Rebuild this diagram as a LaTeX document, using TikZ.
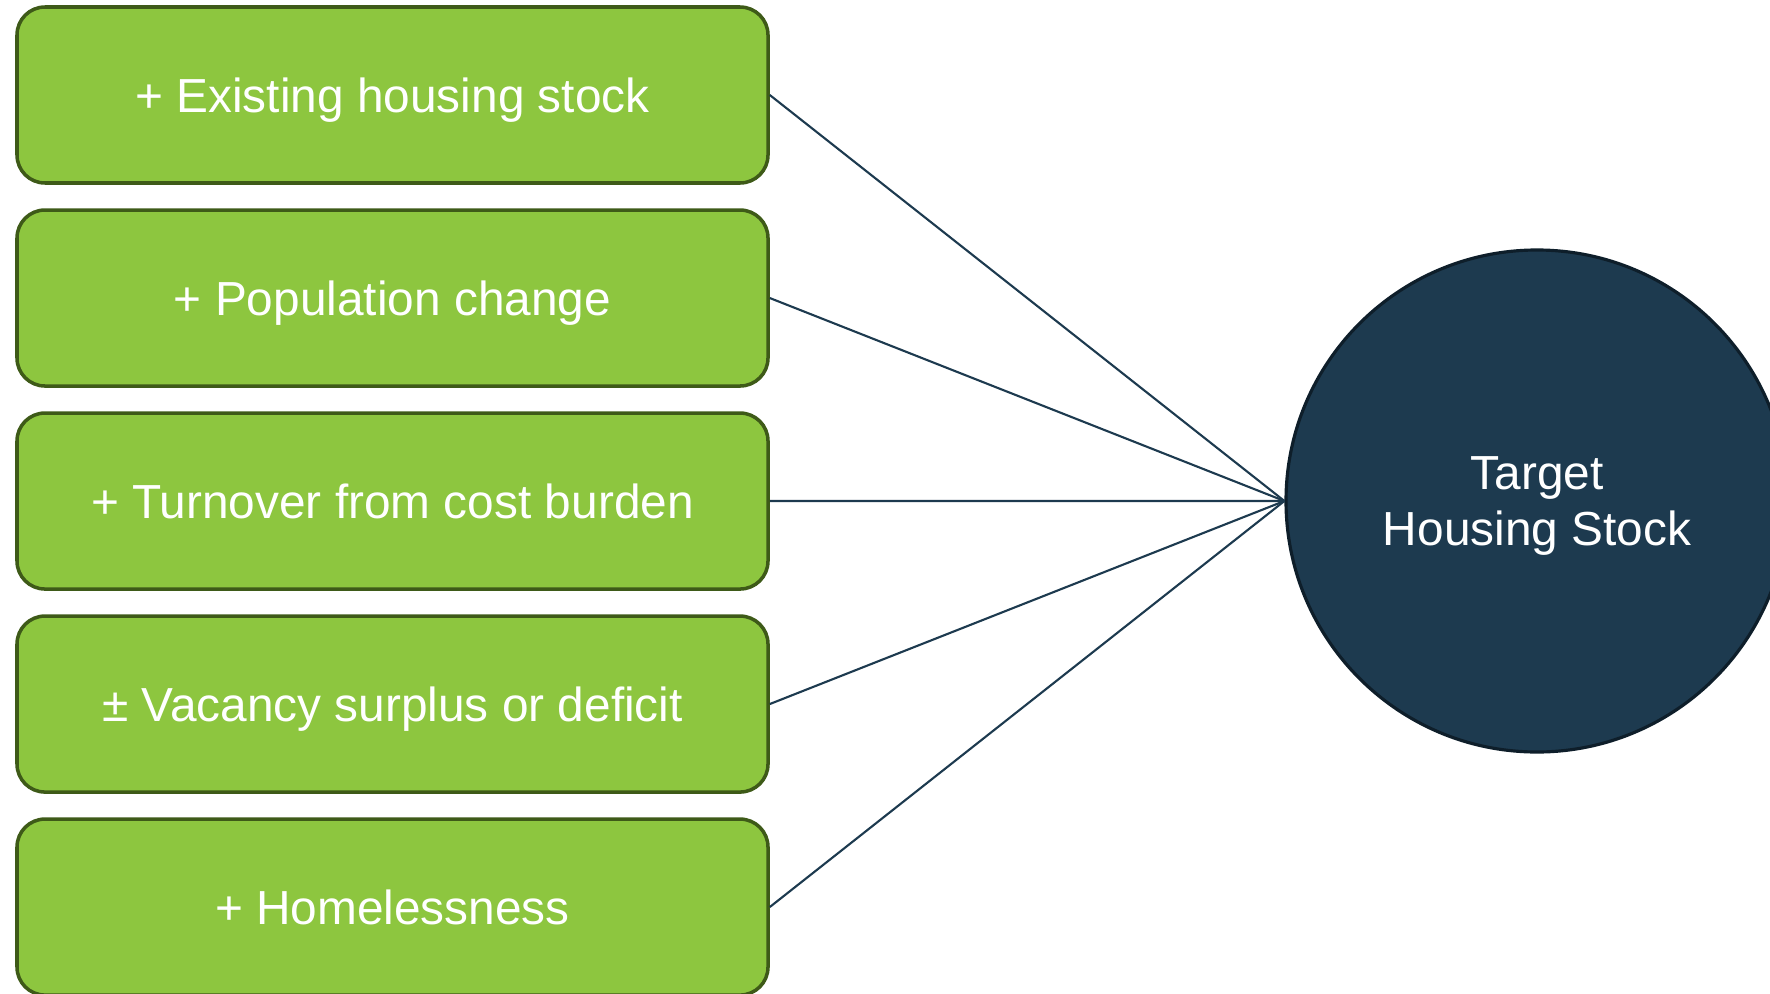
\documentclass[tikz,border=0pt]{standalone}
\usepackage{fontspec}
\setmainfont{Liberation Sans}
\usetikzlibrary{positioning}

\definecolor{boxgreen}{RGB}{141,198,63}
\definecolor{boxedge}{RGB}{62,90,24}
\definecolor{navy}{RGB}{29,58,79}
\definecolor{navyedge}{RGB}{14,30,42}

\begin{document}
\begin{tikzpicture}[
    factor/.style={draw=boxedge, line width=1pt, fill=boxgreen, rounded corners=0.28cm,
      minimum width=7.51cm, minimum height=1.76cm, inner sep=0pt, text depth=0pt,
      text=white, font=\fontsize{13.6}{16}\selectfont},
    target/.style={circle, draw=navyedge, line width=0.9pt, fill=navy, minimum size=5.02cm,
      inner sep=0pt, align=center, text depth=-1pt, text=white,
      font=\fontsize{13.6}{16}\selectfont},
    link/.style={draw=navy, line width=0.6pt}
  ]
  % 画布 1770 x 993 px，1 px = 0.01 cm
  \useasboundingbox (0,0) rectangle (17.70,-9.93);
  \clip (0,0) rectangle (17.70,-9.93);

  % 1. 左侧五个因素框
  \node[factor] (stock) at (3.925,-0.95) {+ Existing housing stock};
  \node[factor, below=0.235cm of stock] (pop) {+ Population change};
  \node[factor, below=0.235cm of pop] (turn) {+ Turnover from cost burden};
  \node[factor, below=0.235cm of turn] (vac) {± Vacancy surplus or deficit};
  \node[factor, below=0.235cm of vac] (home) {+ Homelessness};

  % 2. 右侧目标圆
  \node[target] (goal) at (15.37,-5.01) {Target\\Housing Stock};

  % 3. 连线：各框右端汇聚到圆的左端
  \draw[link] (stock.east) -- (goal.west);
  \draw[link] (pop.east) -- (goal.west);
  \draw[link] (turn.east) -- (goal.west);
  \draw[link] (vac.east) -- (goal.west);
  \draw[link] (home.east) -- (goal.west);

\end{tikzpicture}
\end{document}
